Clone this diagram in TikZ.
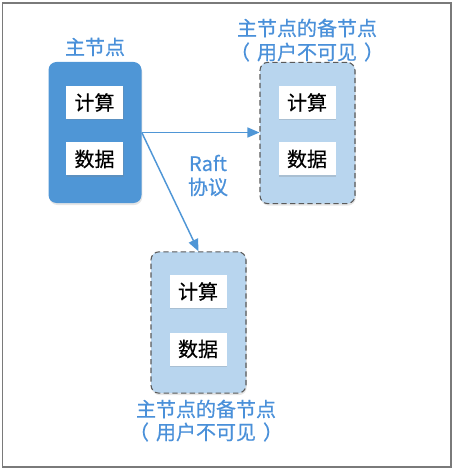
\documentclass[tikz,border=0pt]{standalone}
\usepackage{fontspec}
\setmainfont{Noto Sans CJK SC}[FakeBold=0.6]
\usetikzlibrary{arrows.meta,shadows}
\definecolor{mainblue}{HTML}{4F96D6}
\definecolor{lightblue}{HTML}{B8D5EE}
\definecolor{textblue}{HTML}{4A90D9}
\definecolor{framegray}{HTML}{7A7A7A}
\definecolor{dashgray}{HTML}{5A5A5A}
\tikzset{
  every node/.style={font=\fontsize{15pt}{18pt}\selectfont, inner sep=0pt},
  mainbox/.style={rectangle, rounded corners=6pt, fill=mainblue, minimum width=69.75pt, minimum height=105.75pt,
    drop shadow={opacity=0.2, shadow xshift=0.6pt, shadow yshift=-1.5pt}},
  backbox/.style={rectangle, rounded corners=6pt, fill=lightblue, draw=dashgray, dashed, line width=0.8pt,
    dash pattern=on 4pt off 2.5pt, minimum width=71.25pt, minimum height=106pt,
    drop shadow={opacity=0.2, shadow xshift=0.6pt, shadow yshift=-1.5pt, draw=none}},
  innerbox/.style={rectangle, fill=white, minimum width=42.75pt, minimum height=24.75pt, text=black,
    drop shadow={opacity=0.25, shadow xshift=0.6pt, shadow yshift=-1pt}},
  lbl/.style={text=textblue, align=center},
  conn/.style={draw=mainblue, line width=1.1pt, -{Triangle[length=9pt,width=7.5pt]}}
}
\begin{document}
\begin{tikzpicture}[x=0.75pt,y=-0.75pt]
\useasboundingbox (0,0) rectangle (456,470);
\draw[framegray, line width=1.1pt] (2.5,3) rectangle (451,467);

\node[mainbox] (main) at (95,132.5) {};
\node[innerbox] (mc) at (94.5,102.5) {计算};
\node[innerbox] (md) at (94.5,159) {数据};
\node[lbl] (mlbl) at (95,47) {主节点};

\node[backbox] (r) at (307.5,133) {};
\node[innerbox] (rc) at (307,102.5) {计算};
\node[innerbox] (rd) at (307,159) {数据};
\node[lbl] (rl1) at (307,28) {主节点的备节点};
\node[lbl] (rl2) at (307,52) {（\hspace{0.35em}用户不可见\hspace{0.35em}）};

\node[backbox] (b) at (198.5,322.5) {};
\node[innerbox] (bc) at (198,291.5) {计算};
\node[innerbox] (bd) at (198,349) {数据};
\node[lbl] (bl1) at (206,409) {主节点的备节点};
\node[lbl] (bl2) at (206,432) {（\hspace{0.35em}用户不可见\hspace{0.35em}）};

\node[lbl] (raft) at (208,163) {Raft};
\node[lbl] (proto) at (208,187) {协议};

\coordinate (src) at (main.east);
\draw[conn] (src) -- (r.west |- src);
\draw[conn] (src) -- (b.north);
\end{tikzpicture}
\end{document}
